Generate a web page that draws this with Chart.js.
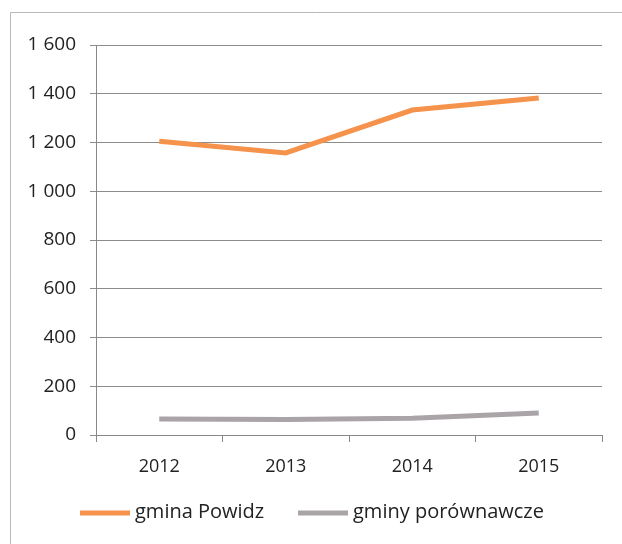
<!DOCTYPE html>
<html>
<head>
<meta charset="utf-8">
<script src="https://cdn.jsdelivr.net/npm/chart.js@4"></script>
<style>
  html, body { margin: 0; padding: 0; background: #fff; }
  #wrap { width: 622px; height: 544px; }
</style>
</head>
<body>
<div id="wrap"><canvas id="myChart" width="622" height="544"></canvas></div>
<script>
const years = ['2012', '2013', '2014', '2015'];
const powidz = [1205, 1157, 1333, 1383];
const porownawcze = [66, 64, 69, 90];
const yTicks = [0, 200, 400, 600, 800, 1000, 1200, 1400, 1600];

const FONT = "'Open Sans', sans-serif";

// ramka wycinka (lewa i górna krawędź skanu)
const frame = {
  id: 'frame',
  beforeDraw(chart) {
    const c = chart.ctx;
    c.save();
    c.strokeStyle = '#b9b9b9';
    c.lineWidth = 1;
    c.beginPath();
    c.moveTo(10.5, 544);
    c.lineTo(10.5, 12.5);
    c.lineTo(622, 12.5);
    c.stroke();
    c.restore();
  }
};

// legenda pod wykresem, przesunięta jak w oryginale
const bottomLegend = {
  id: 'bottomLegend',
  afterDraw(chart) {
    const c = chart.ctx;
    const starts = [80, 298];
    const y = 513;
    c.save();
    c.font = '20px ' + FONT;
    c.textBaseline = 'middle';
    c.fillStyle = '#222';
    chart.data.datasets.forEach((ds, i) => {
      const x = starts[i];
      c.strokeStyle = ds.borderColor;
      c.lineWidth = 5;
      c.beginPath();
      c.moveTo(x, y);
      c.lineTo(x + 50, y);
      c.stroke();
      c.fillText(ds.label, x + 55, y - 1);
    });
    c.restore();
  }
};

const ctx = document.getElementById('myChart').getContext('2d');
new Chart(ctx, {
  type: 'line',
  data: {
    labels: years,
    datasets: [{
      label: 'gmina Powidz',
      data: powidz,
      borderColor: '#f5924c',
      backgroundColor: '#f5924c',
      borderWidth: 5,
      pointRadius: 0,
      fill: false,
    }, {
      label: 'gminy porównawcze',
      data: porownawcze,
      borderColor: '#aaa4a8',
      backgroundColor: '#aaa4a8',
      borderWidth: 5,
      pointRadius: 0,
      fill: false,
    }]
  },
  options: {
    responsive: false,
    animation: false,
    layout: { padding: { left: 10, right: 20, top: 45, bottom: 57 } },
    plugins: {
      tooltip: { enabled: false },
      legend: { display: false }
    },
    scales: {
      x: {
        offset: true,
        grid: { display: true, drawOnChartArea: false, tickLength: 7, offset: true, color: '#888' },
        border: { display: true, color: '#888', width: 1 },
        ticks: { color: '#222', padding: 14, font: { family: FONT, size: 18 } },
        afterFit: s => { s.height = 52; }
      },
      y: {
        min: 0,
        max: 1600,
        afterBuildTicks: s => { s.ticks = yTicks.map(v => ({ value: v })); },
        afterFit: s => { s.width = 86; },
        grid: { color: '#8c8c8c', lineWidth: 1, tickLength: 6 },
        border: { display: true, color: '#888' },
        ticks: {
          color: '#222',
          padding: 14,
          font: { family: FONT, size: 19 },
          callback: v => String(v).replace(/\B(?=(\d{3})+(?!\d))/g, ' ')
        }
      }
    }
  },
  plugins: [frame, bottomLegend]
});
</script>
</body>
</html>
